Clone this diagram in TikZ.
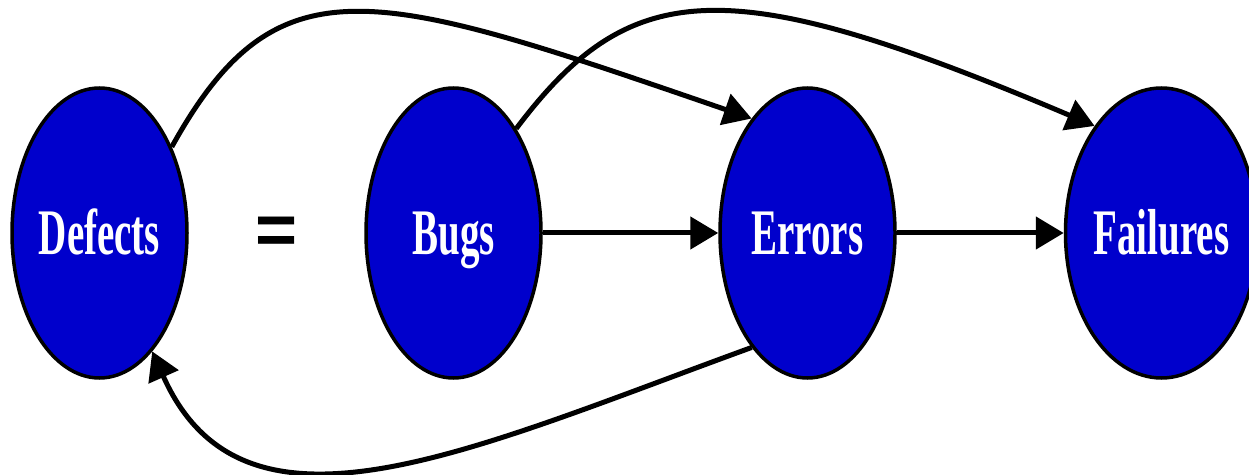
\documentclass[tikz,border=0pt]{standalone}
\usepackage{fontspec}
\newfontfamily\labelfont{Liberation Serif}[FakeStretch=0.6]
\newfontfamily\signfont{Liberation Sans}
\usetikzlibrary{positioning, shapes.geometric, arrows.meta}
\definecolor{nodeblue}{RGB}{0,0,204}

\begin{document}
\begin{tikzpicture}[x=1pt, y=1pt, node distance=354pt,
    stage/.style={ellipse, draw, line width=3.5pt, fill=nodeblue, text=white, inner sep=0pt,
        minimum width=175pt, minimum height=290pt, text height=43pt, text depth=0pt,
        font=\labelfont\bfseries\fontsize{65}{70}\selectfont},
    link/.style={line width=5pt, -{Triangle[length=28pt, width=32pt]}}]
			\useasboundingbox (0,0) rectangle (1249,474);
			\node[stage] (defects) at (99.5,241) {Defects};
			\node[stage, right of=defects] (bugs) {Bugs};
			\node[stage, right of=bugs] (errors) {Errors};
			\node[stage, right of=errors] (failures) {Failures};
			\node[right of=defects, node distance=177pt, yshift=-3pt, inner sep=0pt,
				font=\signfont\bfseries\fontsize{72}{72}\selectfont] (equals) {=};
			
			\draw[link] (bugs) -- (errors);
			\draw[link] (errors) -- (failures);
			
			\draw[link] (defects.50) to[out=61, in=161, out distance=218pt, in distance=400pt] (errors.116);
			\draw[link] (bugs.59) to[out=53, in=157, out distance=190pt, in distance=400pt] (failures.122);
			\draw[link] (errors.244) to[out=200, in=294, out distance=304pt, in distance=225pt] (defects.294);
		\end{tikzpicture}
\end{document}
